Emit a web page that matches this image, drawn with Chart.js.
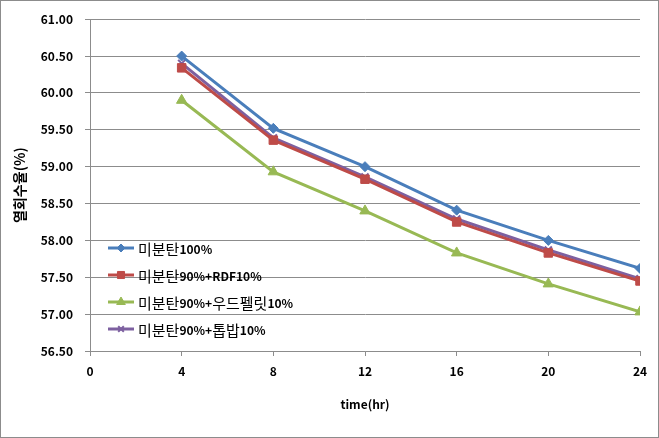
<!DOCTYPE html>
<html>
<head>
<meta charset="utf-8">
<script src="https://cdn.jsdelivr.net/npm/chart.js@4.4.0/dist/chart.umd.min.js"></script>
<style>
  body { margin: 0; background: #fff; }
  #wrap { width: 659px; height: 438px; }
</style>
</head>
<body>
<div id="wrap"><canvas id="heatChart" width="659" height="438"></canvas></div>
<script>
// 시간(hr)
var hours = [4, 8, 12, 16, 20, 24];
// 열회수율(%)
var coal100 = [60.50, 59.52, 59.00, 58.41, 58.00, 57.62];
var coalRdf = [60.34, 59.36, 58.83, 58.25, 57.83, 57.45];
var coalWood = [59.90, 58.93, 58.40, 57.83, 57.41, 57.03];
var coalSaw = [60.40, 59.39, 58.86, 58.29, 57.87, 57.48];
var seriesNames = ['미분탄100%', '미분탄90%+RDF10%', '미분탄90%+우드펠릿10%', '미분탄90%+톱밥10%'];

var fontKr = "'Noto Sans CJK KR', 'Noto Sans', sans-serif";

function toPoints(arr) {
    let pts = [];
    for (let i = 0; i < hours.length; i++) {
        pts.push({x: hours[i], y: arr[i]});
    }
    return pts;
}

// 테두리
var borderPlugin = {
    id: 'outerBorder',
    afterDraw: function(chart) {
        let ctx = chart.ctx;
        ctx.save();
        ctx.strokeStyle = '#8c8c8c';
        ctx.lineWidth = 1;
        ctx.strokeRect(0.5, 0.5, chart.width - 1, chart.height - 1);
        ctx.restore();
    }
};

// 범례 (차트 안쪽 왼쪽 아래)
var innerLegend = {
    id: 'innerLegend',
    afterDatasetsDraw: function(chart) {
        let ctx = chart.ctx;
        let x0 = 108, y0 = 248, gap = 27;
        ctx.save();
        chart.data.datasets.forEach(function(ds, i) {
            let y = y0 + i * gap;
            ctx.strokeStyle = ds.borderColor;
            ctx.lineWidth = 3;
            ctx.beginPath();
            ctx.moveTo(x0, y);
            ctx.lineTo(x0 + 26, y);
            ctx.stroke();
            ctx.fillStyle = ds.pointBackgroundColor;
            ctx.strokeStyle = ds.pointBorderColor;
            ctx.lineWidth = ds.pointBorderWidth;
            Chart.helpers.drawPoint(ctx, {
                pointStyle: ds.pointStyle,
                radius: ds.pointRadius - 1,
                borderWidth: ds.pointBorderWidth
            }, x0 + 13, y);
            // 한글은 크게, 숫자/영문은 굵게
            let tx = x0 + 30;
            ctx.textBaseline = 'middle';
            ctx.fillStyle = '#000';
            let text = ds.label;
            for (let c = 0; c < text.length; c++) {
                let ch = text[c];
                if (/[\uac00-\ud7a3]/.test(ch)) {
                    ctx.font = '15px ' + fontKr;
                } else {
                    ctx.font = 'bold 12px ' + fontKr;
                }
                ctx.fillText(ch, tx, y + 1);
                tx += ctx.measureText(ch).width;
            }
        });
        ctx.restore();
    }
};

var colors = ['#4a7ebb', '#be4b48', '#98b954', '#7d60a0'];
var styles = ['rectRot', 'rect', 'triangle', 'crossRot'];
var radii = [5, 6, 6, 5];
var values = [coal100, coalRdf, coalWood, coalSaw];

var datasets = [];
for (let i = 0; i < values.length; i++) {
    datasets.push({
        label: seriesNames[i],
        data: toPoints(values[i]),
        borderColor: colors[i],
        backgroundColor: colors[i],
        pointBackgroundColor: colors[i],
        pointBorderColor: colors[i],
        pointStyle: styles[i],
        pointRadius: radii[i],
        pointBorderWidth: styles[i] == 'crossRot' ? 2 : 1,
        borderWidth: 3,
        tension: 0
    });
}

var heatChart = new Chart(document.getElementById('heatChart'), {
    type: 'line',
    data: { datasets: datasets },
    plugins: [borderPlugin, innerLegend],
    options: {
        responsive: false,
        animation: false,
        layout: { padding: { top: 19, right: 19, left: 0, bottom: 26 } },
        plugins: {
            legend: { display: false },
            tooltip: { enabled: false }
        },
        scales: {
            x: {
                type: 'linear',
                min: 0,
                max: 24,
                ticks: {
                    stepSize: 4,
                    color: '#000',
                    padding: 8,
                    font: { family: fontKr, size: 12, weight: 'bold' }
                },
                grid: {
                    drawOnChartArea: false,
                    color: '#8c8c8c',
                    tickLength: 5
                },
                border: { color: '#8c8c8c' },
                title: {
                    display: true,
                    text: 'time(hr)',
                    color: '#000',
                    font: { family: fontKr, size: 12, weight: 'bold' },
                    padding: { top: 10, bottom: 0 }
                },
                afterFit: function(scale) { scale.height = 61; }
            },
            y: {
                min: 56.5,
                max: 61,
                ticks: {
                    stepSize: 0.5,
                    color: '#000',
                    padding: 12,
                    font: { family: fontKr, size: 12, weight: 'bold' },
                    callback: function(v) { return v.toFixed(2); }
                },
                grid: {
                    color: '#8c8c8c',
                    tickLength: 5
                },
                border: { color: '#8c8c8c' },
                title: {
                    display: true,
                    text: '열회수율(%)',
                    color: '#000',
                    font: { family: fontKr, size: 14, weight: 'bold' },
                    padding: { top: 11, bottom: 0 }
                },
                afterFit: function(scale) { scale.width = 90; }
            }
        }
    }
});
</script>
</body>
</html>
